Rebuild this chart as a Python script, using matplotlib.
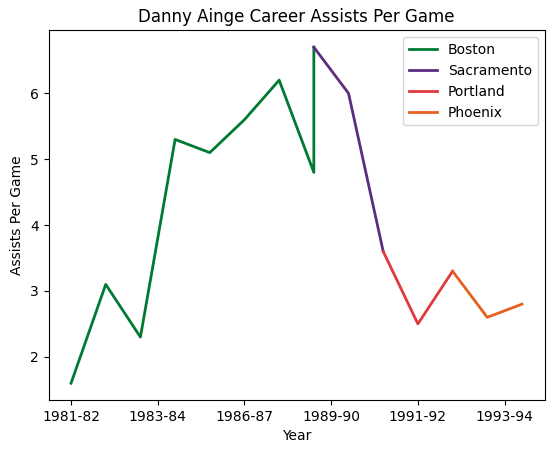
import matplotlib
matplotlib.use('Agg')
import matplotlib.pyplot as plt

# season index on x, assists per game on y, one series per team
boston_x = [0, 1, 2, 3, 4, 5, 6, 7, 7]
boston_y = [1.6, 3.1, 2.3, 5.3, 5.1, 5.6, 6.2, 4.8, 6.7]
sacramento_x = [7, 8, 9]
sacramento_y = [6.7, 6.0, 3.6]
portland_x = [9, 10, 11]
portland_y = [3.6, 2.5, 3.3]
phoenix_x = [11, 12, 13]
phoenix_y = [3.3, 2.6, 2.8]

tick_pos = [0, 2.5, 5, 7.5, 10, 12.5]
tick_labels = ['1981-82', '1983-84', '1986-87', '1989-90', '1991-92', '1993-94']

fig, ax = plt.subplots(figsize=(5.57, 4.53), dpi=100)
fig.subplots_adjust(left=48.5/557, right=544.5/557, top=1-30.4/453, bottom=1-400/453)

ax.plot(boston_x, boston_y, color='#007A33', lw=2, label='Boston')
ax.plot(sacramento_x, sacramento_y, color='#5A2D81', lw=2, label='Sacramento')
ax.plot(portland_x, portland_y, color='#E03A3E', lw=2, label='Portland')
ax.plot(phoenix_x, phoenix_y, color='#E56020', lw=2, label='Phoenix')

ax.set_xticks(tick_pos, labels=tick_labels)
ax.set_title('Danny Ainge Career Assists Per Game')
ax.set_xlabel('Year')
ax.set_ylabel('Assists Per Game')
ax.legend(loc='upper right')

fig.savefig('out.png')
